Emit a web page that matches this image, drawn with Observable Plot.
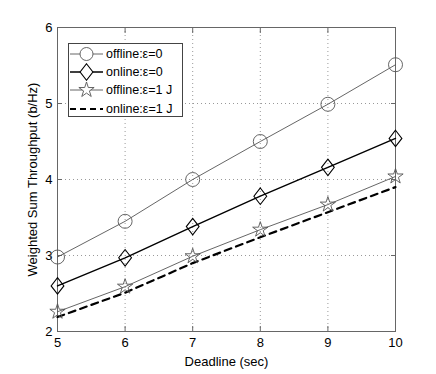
<!DOCTYPE html>
<html>
<head>
<meta charset="utf-8">
<script src="https://cdn.jsdelivr.net/npm/d3@7"></script>
<script src="https://cdn.jsdelivr.net/npm/@observablehq/plot@0.6"></script>
<style>
  html, body { margin: 0; padding: 0; background: #fff; }
  #wrap { position: relative; width: 436px; height: 374px; font-family: "Liberation Sans", Arial, sans-serif; }
  #legend { position: absolute; left: 68px; top: 43px; width: 115px; height: 74px; border: 1px solid #444; background: #fff; box-sizing: border-box; }
  #legend .row { position: absolute; left: 0; height: 18px; display: flex; align-items: center; font-size: 12.5px; color: #000; }
  #legend svg { display: block; }
</style>
</head>
<body>
<div id="wrap"><div id="legend"></div></div>
<script>
const deadline = [5, 6, 7, 8, 9, 10];
const offlineE0 = [2.98, 3.45, 4.0, 4.5, 4.99, 5.51];
const onlineE0 = [2.6, 2.97, 3.38, 3.78, 4.16, 4.54];
const offlineE1 = [2.26, 2.59, 2.99, 3.34, 3.67, 4.04];
const onlineE1 = [2.19, 2.51, 2.9, 3.24, 3.57, 3.9];
const xTicks = [5, 6, 7, 8, 9, 10];
const yTicks = [2, 3, 4, 5, 6];
const seriesNames = ["offline:\u03b5=0", "online:\u03b5=0", "offline:\u03b5=1 J", "online:\u03b5=1 J"];

const tall = (a, b) => ({ draw(ctx, size) { const h = Math.sqrt(size) * a, w = Math.sqrt(size) * b; ctx.moveTo(0, -h); ctx.lineTo(w, 0); ctx.lineTo(0, h); ctx.lineTo(-w, 0); ctx.closePath(); } });
const diamondSym = tall(0.62, 0.48);

const rows = (vals) => deadline.map((d, i) => ({ x: d, y: vals[i] }));
const s1 = rows(offlineE0), s2 = rows(onlineE0), s3 = rows(offlineE1), s4 = rows(onlineE1);

const gray = "#555";
const axisCol = "#666";
const blank = () => "";

const plot = Plot.plot({
  width: 436,
  height: 374,
  marginLeft: 57,
  marginRight: 41,
  marginTop: 27,
  marginBottom: 43,
  style: { fontFamily: "Liberation Sans, Arial, sans-serif", fontSize: "13px", color: "#000", background: "transparent" },
  x: { domain: [5, 10], ticks: xTicks },
  y: { domain: [2, 6], ticks: yTicks },
  marks: [
    Plot.gridX(xTicks.slice(1, -1), { stroke: "#999", strokeOpacity: 1, strokeDasharray: "1,3" }),
    Plot.gridY(yTicks.slice(1, -1), { stroke: "#999", strokeOpacity: 1, strokeDasharray: "1,3" }),
    Plot.axisX(xTicks, { anchor: "bottom", tickSize: -5, stroke: axisCol, tickPadding: 11, fontSize: 13, tickFormat: d3.format("d"), label: "Deadline (sec)", labelAnchor: "center", labelOffset: 34, labelArrow: false }),
    Plot.axisX(xTicks, { anchor: "top", tickSize: -5, stroke: axisCol, tickFormat: blank, label: null }),
    Plot.axisY(yTicks, { anchor: "left", tickSize: -5, stroke: axisCol, tickPadding: 10, fontSize: 13, tickFormat: d3.format("d"), label: "Weighted Sum Throughput (b/Hz)", labelAnchor: "center", labelOffset: 30, labelArrow: false }),
    Plot.axisY(yTicks, { anchor: "right", tickSize: -5, stroke: axisCol, tickFormat: blank, label: null }),
    Plot.frame({ stroke: axisCol, strokeWidth: 1 }),
    Plot.line(s4, { x: "x", y: "y", stroke: "#000", strokeWidth: 2.2, strokeDasharray: "7,5" }),
    Plot.line(s3, { x: "x", y: "y", stroke: gray, strokeWidth: 0.9 }),
    Plot.dot(s3, { x: "x", y: "y", symbol: "star", r: 4.8, stroke: gray, strokeWidth: 0.9, fill: "none" }),
    Plot.line(s2, { x: "x", y: "y", stroke: "#000", strokeWidth: 1.4 }),
    Plot.dot(s2, { x: "x", y: "y", symbol: diamondSym, r: 7.5, stroke: "#000", strokeWidth: 1.1, fill: "none" }),
    Plot.line(s1, { x: "x", y: "y", stroke: gray, strokeWidth: 0.9 }),
    Plot.dot(s1, { x: "x", y: "y", r: 7, stroke: gray, strokeWidth: 0.9, fill: "none" })
  ]
});
plot.style.position = "absolute";
plot.style.left = "0";
plot.style.top = "0";
const wrap = document.getElementById("wrap");
wrap.insertBefore(plot, wrap.firstChild);

// legend
const legend = document.getElementById("legend");
const ns = "http://www.w3.org/2000/svg";
const legendStyles = [
  { stroke: gray, w: 0.9, dash: null, marker: "circle", r: 6.5 },
  { stroke: "#000", w: 1.4, dash: null, marker: "diamond", r: 7.5 },
  { stroke: gray, w: 0.9, dash: null, marker: "star", r: 4.8 },
  { stroke: "#000", w: 2.2, dash: "6,4", marker: null }
];
const rowTops = [1, 19, 37, 56];
seriesNames.forEach((name, i) => {
  const st = legendStyles[i];
  const row = document.createElement("div");
  row.className = "row";
  row.style.top = rowTops[i] + "px";
  const svg = document.createElementNS(ns, "svg");
  svg.setAttribute("width", 37);
  svg.setAttribute("height", 18);
  const line = document.createElementNS(ns, "line");
  line.setAttribute("x1", 1); line.setAttribute("x2", 34);
  line.setAttribute("y1", 9); line.setAttribute("y2", 9);
  line.setAttribute("stroke", st.stroke);
  line.setAttribute("stroke-width", st.w);
  if (st.dash) line.setAttribute("stroke-dasharray", st.dash);
  svg.appendChild(line);
  if (st.marker) {
    const sym = st.marker === "circle" ? d3.symbolCircle : st.marker === "star" ? d3.symbolStar : diamondSym;
    const p = document.createElementNS(ns, "path");
    p.setAttribute("d", d3.symbol(sym, Math.PI * st.r ** 2)());
    p.setAttribute("transform", "translate(17.5,9)");
    p.setAttribute("fill", "#fff");
    p.setAttribute("stroke", st.stroke);
    p.setAttribute("stroke-width", st.marker === "diamond" ? 1.1 : 0.9);
    svg.appendChild(p);
  }
  row.appendChild(svg);
  const t = document.createElement("span");
  t.textContent = name;
  row.appendChild(t);
  legend.appendChild(row);
});
</script>
</body>
</html>
